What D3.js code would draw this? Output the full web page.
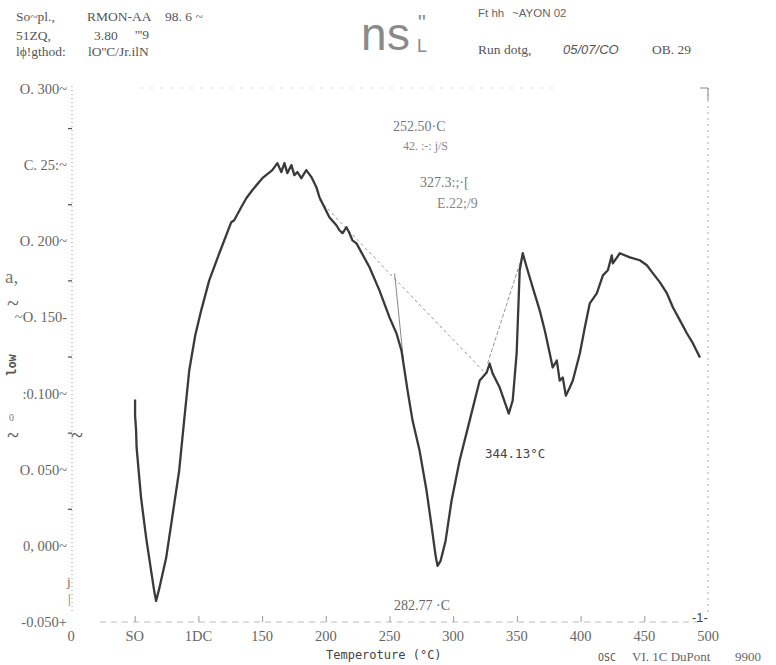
<!DOCTYPE html>
<html>
<head>
<meta charset="utf-8">
<script src="https://cdn.jsdelivr.net/npm/d3@7"></script>
<style>
body { margin:0; padding:0; background:#fff; }
svg { display:block; }
.serif { font-family:"Liberation Serif", "DejaVu Serif", serif; }
.mono { font-family:"DejaVu Sans Mono", "Liberation Mono", monospace; }
.courier { font-family:"Liberation Mono", "Courier New", "DejaVu Serif", serif; }
.sans { font-family:"Liberation Sans", Arial, sans-serif; }
</style>
</head>
<body>
<svg id="chart" width="776" height="665"></svg>
<script>
// DSC trace: temperature (°C) and heat flow (W/g)
var tempC = [50.3, 50.3, 51.1, 51.5, 55.0, 59.0, 62.9, 65.3, 66.8, 69.2, 74.7, 79.4, 84.9, 88.8, 92.8,
  97.5, 102.2, 108.5, 116.4, 125.8, 128.1, 133.6, 137.6, 142.3, 150.2, 158.0, 162.0, 165.1, 167.5,
  169.8, 173.0, 175.3, 177.7, 180.8, 184.7, 188.7, 192.6, 195.0, 198.9, 202.8, 208.3, 210.7, 213.1,
  216.2, 218.6, 220.9, 224.1, 234.3, 242.1, 250.0, 255.5, 259.4, 261.8, 264.2, 268.1, 273.6, 279.1,
  283.0, 286.2, 287.7, 290.1, 294.0, 298.7, 305.0, 312.9, 320.8, 326.3, 328.6, 331.0, 336.5, 342.0,
  343.6, 346.7, 349.8, 352.2, 354.6, 357.7, 362.4, 367.9, 371.9, 375.8, 378.1, 381.3, 383.6, 386.0,
  388.4, 391.5, 393.9, 399.4, 403.3, 407.2, 412.7, 417.5, 421.4, 424.5, 425.3, 430.8, 438.7, 446.5,
  452.0, 456.8, 462.3, 467.8, 472.5, 478.0, 483.5, 488.2, 493.7];
var heatFlow = [0.0967, 0.0862, 0.0763, 0.0651, 0.0322, 0.0059, -0.0158, -0.0289, -0.0355, -0.0276,
  -0.0072, 0.0191, 0.0500, 0.0829, 0.1158, 0.1388, 0.1553, 0.1750, 0.1928, 0.2132, 0.2145, 0.2230,
  0.2289, 0.2342, 0.2421, 0.2474, 0.2520, 0.2461, 0.2520, 0.2454, 0.2507, 0.2441, 0.2461, 0.2421,
  0.2474, 0.2428, 0.2362, 0.2296, 0.2230, 0.2164, 0.2112, 0.2079, 0.2059, 0.2099, 0.2059, 0.2013,
  0.1993, 0.1836, 0.1684, 0.1507, 0.1401, 0.1289, 0.1158, 0.1026, 0.0829, 0.0632, 0.0368, 0.0138,
  -0.0059, -0.0125, -0.0092, 0.0039, 0.0303, 0.0566, 0.0829, 0.1092, 0.1145, 0.1204, 0.1138, 0.1046,
  0.0914, 0.0875, 0.0961, 0.1270, 0.1816, 0.1928, 0.1836, 0.1704, 0.1553, 0.1421, 0.1270, 0.1178,
  0.1224, 0.1092, 0.1112, 0.0993, 0.1046, 0.1092, 0.1270, 0.1441, 0.1599, 0.1664, 0.1783, 0.1816,
  0.1914, 0.1862, 0.1928, 0.1901, 0.1882, 0.1849, 0.1796, 0.1737, 0.1664, 0.1572, 0.1487, 0.1401,
  0.1336, 0.1243];

// integration construction lines
var baseLine = [[195.0, 0.2276], [324.7, 0.1145]];
var dropLine = [[254.0, 0.1796], [261.0, 0.1220]];
var riseLine = [[327.0, 0.1204], [353.8, 0.1900]];

var yTickValues = [0.3, 0.25, 0.2, 0.15, 0.1, 0.05, 0, -0.05];
var yTickLabels = ["O. 300~", "C. 25:~", "O. 200~", "~O. 150-", ":0.100~", "O. 050~", "0, 000~", "-0.050+"];
var yMinorTicks = [0.275, 0.225, 0.175, 0.125, 0.075, 0.025];
var xTickValues = [0, 50, 100, 150, 200, 250, 300, 350, 400, 450, 500];
var xTickLabels = ["0", "SO", "1DC", "150", "200", "250", "300", "350", "400", "450", "500"];

var svg = d3.select("#chart");
var x = d3.scaleLinear().domain([0, 500]).range([71, 708]);
var y = d3.scaleLinear().domain([-0.05, 0.3]).range([623, 90]);

// frame: dotted left / right / top, dashed bottom
svg.append("line").attr("x1", x(0) + 1).attr("x2", x(0) + 1).attr("y1", 86).attr("y2", 612)
  .attr("stroke", "#999").attr("stroke-width", 1).attr("stroke-dasharray", "1,3");
svg.append("line").attr("x1", x(500)).attr("x2", x(500)).attr("y1", 88).attr("y2", 612)
  .attr("stroke", "#aaa").attr("stroke-width", 1).attr("stroke-dasharray", "2,4");
svg.append("path").attr("d", "M" + (x(500) - 8) + ",88H" + x(500) + "V100")
  .attr("fill", "none").attr("stroke", "#888").attr("stroke-width", 1);
svg.append("line").attr("x1", 140).attr("x2", 560).attr("y1", 88).attr("y2", 88)
  .attr("stroke", "#ddd").attr("stroke-width", 1).attr("stroke-dasharray", "3,7");
svg.append("line").attr("x1", 100).attr("x2", x(500) - 10).attr("y1", 622).attr("y2", 622)
  .attr("stroke", "#bbb").attr("stroke-width", 1).attr("stroke-dasharray", "6,5");

// left minor ticks
svg.append("g").attr("transform", "translate(" + (x(0) + 1) + ",0)")
  .call(d3.axisLeft(y).tickValues(yMinorTicks).tickSize(4).tickFormat(""))
  .call(function(g) {
    g.select(".domain").remove();
    g.selectAll("line").attr("stroke", "#555").attr("stroke-width", 1.3);
  });

// bottom ticks
svg.append("g").attr("transform", "translate(0,622)")
  .call(d3.axisTop(x).tickValues(xTickValues.slice(1, -1)).tickSize(6).tickFormat(""))
  .call(function(g) {
    g.select(".domain").remove();
    g.selectAll("line").attr("stroke", "#999").attr("stroke-width", 1);
  });

// y tick labels
svg.append("g").selectAll("text").data(yTickValues).join("text")
  .attr("class", "serif")
  .attr("x", 67).attr("y", function(d) { return y(d) + 4; })
  .attr("text-anchor", "end").attr("font-size", 14.5).attr("fill", "#666")
  .text(function(d, i) { return yTickLabels[i]; });

// x tick labels
svg.append("g").selectAll("text").data(xTickValues).join("text")
  .attr("class", "serif")
  .attr("x", function(d) { return x(d); }).attr("y", 641)
  .attr("text-anchor", "middle").attr("font-size", 14.5).attr("fill", "#666")
  .text(function(d, i) { return xTickLabels[i]; });

// construction lines
var seg = d3.line().x(function(d) { return x(d[0]); }).y(function(d) { return y(d[1]); });
svg.append("path").attr("d", seg(baseLine)).attr("fill", "none")
  .attr("stroke", "#888").attr("stroke-width", 0.9).attr("stroke-dasharray", "3,3");
svg.append("path").attr("d", seg(dropLine)).attr("fill", "none")
  .attr("stroke", "#777").attr("stroke-width", 0.9);
svg.append("path").attr("d", seg(riseLine)).attr("fill", "none")
  .attr("stroke", "#888").attr("stroke-width", 0.9).attr("stroke-dasharray", "4,2");

// the trace
var pts = tempC.map(function(t, i) { return [t, heatFlow[i]]; });
svg.append("path").attr("d", seg(pts)).attr("fill", "none")
  .attr("stroke", "#3a3a3a").attr("stroke-width", 2.3).attr("stroke-linejoin", "round");

// header
function txt(s, px, py, size, cls, fill, extra) {
  var t = svg.append("text").attr("class", cls).attr("x", px).attr("y", py)
    .attr("font-size", size).attr("fill", fill).text(s);
  if (extra) extra(t);
  return t;
}
txt("So~pl.,", 16, 21, 13.5, "serif", "#555");
txt("RMON-AA", 87, 21, 13.5, "serif", "#555");
txt("98. 6 ~", 165, 21, 13.5, "serif", "#555");
txt("51ZQ,", 16, 40, 13.5, "serif", "#555");
txt("3.80", 94, 40, 13.5, "serif", "#555");
txt("'''9", 135, 39, 13.5, "serif", "#555");
txt("lϕ!gthod:", 16, 56, 13.5, "serif", "#555");
txt("lO''C/Jr.ilN", 88, 56, 13.5, "serif", "#555");

txt("ns", 360, 50, 46, "courier", "#8a8a8a", function(t) { t.attr("textLength", 52); });
txt("\"", 418, 30, 22, "sans", "#8a8a8a");
txt("L", 417, 52, 18, "sans", "#8a8a8a");

txt("Ft  hh", 478, 17, 11.5, "sans", "#666");
txt("~AYON  02", 512, 17, 11.5, "sans", "#666");
txt("Run  dotg,", 478, 54, 13.5, "serif", "#555");
txt("05/07/CO", 563, 54, 13, "sans", "#555", function(t) { t.attr("font-style", "italic"); });
txt("OB. 29", 652, 54, 13.5, "serif", "#555");

// annotations
txt("252.50·C", 393, 131, 14, "serif", "#777");
txt("42.  :-: j/S", 403, 150, 12, "serif", "#888");
txt("327.3:;·[", 420, 187, 14, "serif", "#777");
txt("E.22;/9", 437, 208, 14, "serif", "#888");
txt("344.13°C", 485, 458, 12.5, "mono", "#444");
txt("282.77  ·C", 394, 610, 14, "serif", "#666");

// y-axis title remnants
txt("a,", 5, 283, 19, "serif", "#777");
txt("~", 7, 310, 22, "serif", "#666");
txt("low", 0, 0, 12, "mono", "#555", function(t) {
  t.attr("transform", "translate(16,365) rotate(-90)").attr("text-anchor", "middle").attr("font-weight", "bold");
});
txt("0", 9, 421, 10, "serif", "#777");
txt("~", 7, 442, 22, "serif", "#555");
txt("~", 71, 442, 22, "serif", "#555");
txt("j", 67, 586, 13, "serif", "#666");
txt("|", 68, 603, 13, "serif", "#666");
txt("-1-", 692, 622, 13, "sans", "#444");

// footer
txt("Temperoture (°C)", 326, 659, 12, "mono", "#444");
txt("OSC", 598, 661, 10, "mono", "#555");
txt("VI. 1C  DuPont", 632, 661, 13, "serif", "#666");
txt("9900", 735, 661, 13, "serif", "#666");
</script>
</body>
</html>
